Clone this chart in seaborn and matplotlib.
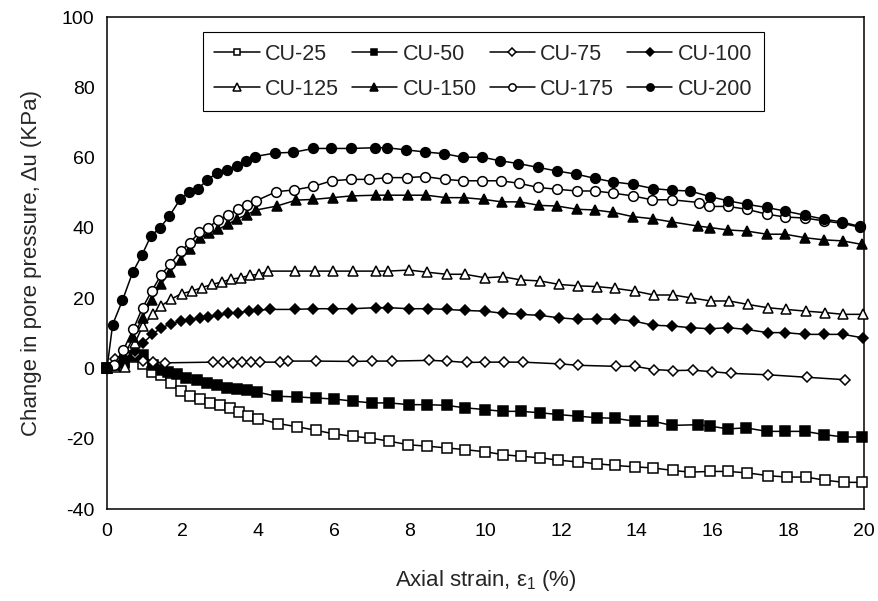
import matplotlib
matplotlib.use("Agg")
import matplotlib.pyplot as plt
import seaborn as sns
import pandas as pd

# Axial strain (%) and pore pressure change (kPa) for each undrained test
e25 = [0, 0.45, 0.74, 0.96, 1.18, 1.44, 1.68, 1.95, 2.19, 2.46, 2.72, 2.99, 3.25, 3.49, 3.73, 4.00,
       4.53, 5.03, 5.52, 5.99, 6.49, 6.96, 7.46, 7.96, 8.45, 8.97, 9.46, 9.99, 10.45, 10.93, 11.44,
       11.92, 12.45, 12.94, 13.42, 13.95, 14.42, 14.94, 15.40, 15.93, 16.41, 16.90, 17.47, 17.96,
       18.47, 18.97, 19.47, 19.95]
u25 = [0, 1.8, 3.2, 1.4, -1.0, -2.0, -4.0, -6.5, -7.7, -8.8, -9.8, -10.5, -11.2, -12.4, -13.6, -14.3,
       -15.7, -16.6, -17.6, -18.6, -19.3, -19.8, -20.7, -21.7, -22.1, -22.6, -23.1, -23.7, -24.5,
       -25.0, -25.4, -26.1, -26.6, -27.1, -27.6, -28.0, -28.3, -29.0, -29.5, -29.3, -29.3, -29.7,
       -30.5, -30.9, -30.9, -31.8, -32.4, -32.4]

e50 = [0, 0.45, 0.74, 0.96, 1.22, 1.45, 1.60, 1.84, 2.10, 2.37, 2.63, 2.90, 3.16, 3.43, 3.69, 3.96,
       4.48, 5.01, 5.52, 6.00, 6.51, 6.99, 7.46, 7.99, 8.46, 8.97, 9.46, 9.99, 10.45, 10.93, 11.44,
       11.92, 12.45, 12.94, 13.42, 13.95, 14.42, 14.92, 15.62, 15.93, 16.41, 16.88, 17.43, 17.91,
       18.44, 18.94, 19.45, 19.94]
u50 = [0, 1.5, 3.5, 3.8, 1.0, -0.5, -1.0, -1.7, -2.7, -3.3, -4.1, -4.8, -5.5, -5.8, -6.2, -6.7,
       -7.9, -8.1, -8.4, -8.7, -9.3, -9.8, -9.8, -10.3, -10.3, -10.5, -11.2, -11.7, -12.2, -12.2,
       -12.6, -13.1, -13.6, -14.0, -14.2, -15.0, -15.0, -16.2, -16.0, -16.4, -17.2, -16.9, -17.9,
       -17.9, -17.9, -18.8, -19.5, -19.5]

e75 = [0, 0.21, 0.48, 0.74, 0.96, 1.22, 1.53, 2.81, 3.06, 3.32, 3.56, 3.80, 4.04, 4.57, 4.79, 5.52,
       6.49, 6.99, 7.52, 8.52, 8.99, 9.50, 9.99, 10.50, 10.98, 11.97, 12.45, 13.46, 13.95, 14.44,
       14.94, 15.48, 15.97, 16.49, 17.47, 18.48, 19.50]
u75 = [0, 2.8, 4.0, 4.0, 2.1, 1.8, 1.6, 1.8, 1.8, 1.6, 1.8, 1.8, 1.8, 1.8, 2.1, 2.1,
       2.0, 2.1, 2.1, 2.3, 2.1, 1.7, 1.8, 1.8, 1.8, 1.3, 0.9, 0.6, 0.6, -0.3,
       -0.6, -0.5, -0.9, -1.4, -1.8, -2.5, -3.2]

e100 = [0, 0.45, 0.74, 0.96, 1.20, 1.42, 1.68, 1.95, 2.20, 2.45, 2.68, 2.94, 3.21, 3.47, 3.75, 4.00,
        4.31, 4.97, 5.45, 5.98, 6.48, 7.11, 7.43, 7.98, 8.49, 8.97, 9.47, 9.99, 10.45, 10.93, 11.44,
        11.95, 12.45, 12.94, 13.42, 13.92, 14.42, 14.92, 15.42, 15.93, 16.41, 16.90, 17.45, 17.91,
        18.44, 18.94, 19.45, 19.97]
u100 = [0, 2.0, 4.9, 7.3, 9.7, 11.5, 12.6, 13.5, 13.8, 14.4, 14.7, 15.1, 15.7, 15.9, 16.3, 16.6,
        16.8, 16.8, 17.0, 17.0, 17.0, 17.3, 17.3, 17.0, 17.0, 16.8, 16.5, 16.3, 15.7, 15.4, 15.1,
        14.4, 14.0, 14.1, 14.0, 13.5, 12.3, 12.1, 11.6, 11.3, 11.6, 11.1, 10.2, 10.2,
        9.7, 9.7, 9.7, 8.7]

e125 = [0, 0.22, 0.48, 0.74, 0.94, 1.21, 1.43, 1.69, 1.97, 2.24, 2.50, 2.77, 3.03, 3.27, 3.53, 3.78,
        4.02, 4.26, 4.97, 5.50, 5.98, 6.51, 7.11, 7.43, 7.98, 8.45, 8.97, 9.46, 9.99, 10.45, 10.93,
        11.44, 11.95, 12.45, 12.94, 13.42, 13.95, 14.45, 14.96, 15.42, 15.95, 16.44, 16.94, 17.45,
        17.94, 18.47, 18.97, 19.45, 19.97]
u125 = [0, 0.3, 0.5, 7.3, 12.0, 15.4, 17.8, 19.7, 21.3, 22.0, 23.0, 23.9, 24.6, 25.4, 25.8, 26.5,
        26.8, 27.7, 27.7, 27.7, 27.7, 27.7, 27.7, 27.7, 28.0, 27.4, 26.8, 26.8, 25.8, 26.1, 25.2,
        24.9, 23.9, 23.5, 23.3, 22.8, 22.0, 20.9, 20.9, 20.1, 19.2, 19.2, 18.2, 17.3,
        16.8, 16.3, 15.9, 15.4, 15.4]

e150 = [0, 0.20, 0.45, 0.70, 0.94, 1.18, 1.43, 1.66, 1.95, 2.19, 2.46, 2.70, 2.94, 3.19, 3.43, 3.70,
        3.95, 4.48, 5.00, 5.45, 5.96, 6.46, 7.11, 7.43, 7.96, 8.43, 8.96, 9.43, 9.96, 10.43, 10.91,
        11.42, 11.90, 12.41, 12.89, 13.38, 13.89, 14.42, 14.92, 15.62, 15.93, 16.41, 16.90, 17.43,
        17.91, 18.44, 18.93, 19.44, 19.94]
u150 = [0, 1.0, 3.5, 9.0, 14.5, 19.5, 24.0, 27.5, 31.0, 34.0, 37.2, 38.5, 39.6, 41.0, 42.5, 43.8,
        45.1, 46.2, 47.9, 48.1, 48.6, 49.1, 49.3, 49.3, 49.3, 49.3, 48.6, 48.6, 48.1, 47.4, 47.4,
        46.4, 46.2, 45.3, 45.1, 44.4, 43.2, 42.6, 41.7, 40.5, 40.1, 39.4, 39.1, 38.2,
        38.2, 37.2, 36.6, 36.3, 35.3]

e175 = [0, 0.18, 0.43, 0.70, 0.94, 1.18, 1.43, 1.66, 1.95, 2.19, 2.44, 2.68, 2.94, 3.19, 3.45, 3.70,
        3.94, 4.47, 4.95, 5.45, 5.94, 6.45, 6.93, 7.41, 7.92, 8.40, 8.93, 9.40, 9.92, 10.40, 10.88,
        11.39, 11.88, 12.41, 12.89, 13.36, 13.89, 14.39, 14.92, 15.65, 15.91, 16.41, 16.90, 17.43,
        17.91, 18.44, 18.93, 19.41, 19.89]
u175 = [0, 1.1, 5.2, 11.3, 17.3, 22.0, 26.6, 29.6, 33.4, 35.8, 38.7, 40.1, 42.3, 43.6, 45.3, 46.4,
        47.7, 50.3, 50.8, 51.8, 53.4, 53.8, 53.8, 54.3, 54.3, 54.6, 53.8, 53.4, 53.4, 53.4, 52.7,
        51.5, 51.0, 50.5, 50.5, 49.9, 49.1, 48.0, 48.0, 47.2, 46.1, 46.1, 45.3, 43.9,
        43.1, 42.8, 42.0, 41.3, 40.2]

e200 = [0, 0.15, 0.41, 0.68, 0.92, 1.16, 1.40, 1.65, 1.93, 2.17, 2.41, 2.65, 2.91, 3.18, 3.43, 3.66,
        3.91, 4.44, 4.92, 5.45, 5.92, 6.44, 7.08, 7.39, 7.90, 8.40, 8.91, 9.40, 9.92, 10.38, 10.87,
        11.39, 11.88, 12.39, 12.89, 13.36, 13.89, 14.42, 14.92, 15.40, 15.93, 16.41, 16.90, 17.43,
        17.91, 18.44, 18.93, 19.41, 19.89]
u200 = [0, 12.5, 19.4, 27.4, 32.2, 37.7, 40.0, 43.4, 48.1, 50.2, 51.2, 53.6, 55.7, 56.5, 57.5, 59.1,
        60.3, 61.3, 61.5, 62.6, 62.6, 62.6, 62.8, 62.8, 62.2, 61.6, 61.1, 60.1, 60.1, 59.1, 58.3,
        57.2, 56.2, 55.3, 54.1, 53.1, 52.4, 51.2, 50.7, 50.5, 48.9, 47.7, 46.7, 45.8,
        44.8, 43.6, 42.5, 41.7, 40.4]

series_names = ["CU-25", "CU-50", "CU-75", "CU-100", "CU-125", "CU-150", "CU-175", "CU-200"]
strains = [e25, e50, e75, e100, e125, e150, e175, e200]
pressures = [u25, u50, u75, u100, u125, u150, u175, u200]

x_ticks = [0, 2, 4, 6, 8, 10, 12, 14, 16, 18, 20]
y_ticks = [-40, -20, 0, 20, 40, 60, 80, 100]

# marker shape, filled?, size
styles = {
    "CU-25": ("s", False, 6.5),
    "CU-50": ("s", True, 6.5),
    "CU-75": ("D", False, 5.5),
    "CU-100": ("D", True, 5.5),
    "CU-125": ("^", False, 7.5),
    "CU-150": ("^", True, 7.5),
    "CU-175": ("o", False, 7),
    "CU-200": ("o", True, 7),
}

sns.set_style("white")
plt.rcParams["font.family"] = ["Liberation Sans", "DejaVu Sans"]
plt.rcParams["mathtext.fontset"] = "custom"
plt.rcParams["mathtext.rm"] = "Liberation Sans"
plt.rcParams["mathtext.it"] = "Liberation Sans"
plt.rcParams["axes.unicode_minus"] = False

frames = []
for name, e, u in zip(series_names, strains, pressures):
    frames.append(pd.DataFrame({"strain": e, "du": u, "test": name}))
df = pd.concat(frames, ignore_index=True)

fig = plt.figure(figsize=(8.79, 6.01), dpi=100)
ax = fig.add_axes([0.1217, 0.153, 0.8613, 0.8187])

for name in series_names:
    mk, filled, ms = styles[name]
    sub = df[df["test"] == name]
    sns.lineplot(data=sub, x="strain", y="du", ax=ax, color="black", linewidth=1.1,
                 marker=mk, markersize=ms, markeredgewidth=1.1,
                 markerfacecolor="black" if filled else "white",
                 markeredgecolor="black", label=name, clip_on=False, zorder=3)

ax.set_xlim(0, 20)
ax.set_ylim(-40, 100)
ax.set_xticks(x_ticks)
ax.set_yticks(y_ticks)
ax.tick_params(axis="both", direction="in", length=4, width=0.8, labelsize=14,
               colors="black")
ax.tick_params(axis="x", pad=10)
ax.tick_params(axis="y", pad=9)
for sp in ax.spines.values():
    sp.set_visible(True)
    sp.set_color("black")
    sp.set_linewidth(1.1)

ax.set_xlabel("Axial strain, $\\varepsilon_1$ (%)", fontsize=16, labelpad=20)
ax.set_ylabel("Change in pore pressure, \u0394u (KPa)", fontsize=16, labelpad=14)

handles, labels = ax.get_legend_handles_labels()
lookup = dict(zip(labels, handles))
order = ["CU-25", "CU-125", "CU-50", "CU-150", "CU-75", "CU-175", "CU-100", "CU-200"]
leg = ax.legend([lookup[k] for k in order], order, ncol=4, loc="upper center",
                bbox_to_anchor=(0.497, 0.97), borderaxespad=0, fontsize=15.5,
                markerscale=0.75, handlelength=2.1, handletextpad=0.25,
                columnspacing=0.6, borderpad=0.55, labelspacing=0.65, frameon=True,
                fancybox=False, framealpha=1, edgecolor="black")
leg.get_frame().set_linewidth(0.8)

fig.savefig("out.png", dpi=100)
